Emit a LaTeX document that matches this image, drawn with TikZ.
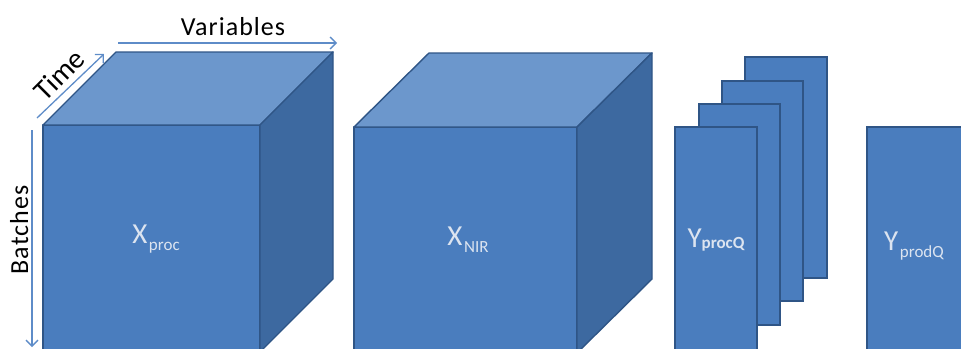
\documentclass[tikz,border=0pt]{standalone}
\usepackage{fontspec}
\setmainfont{Carlito}
\usetikzlibrary{arrows.meta}

\definecolor{frontblue}{HTML}{4A7DBE}
\definecolor{topblue}{HTML}{6C97CC}
\definecolor{sideblue}{HTML}{3D69A0}
\definecolor{edgeblue}{HTML}{2F5586}
\definecolor{axisblue}{HTML}{5E8CC8}
\definecolor{labelgray}{HTML}{DCE4F0}

\tikzset{
  front/.style={fill=frontblue, draw=edgeblue, line width=1.4pt, line join=round},
  topface/.style={fill=topblue, draw=edgeblue, line width=1.4pt, line join=round},
  sideface/.style={fill=sideblue, draw=edgeblue, line width=1.4pt, line join=round},
  sheet/.style={fill=frontblue, draw=edgeblue, line width=1.6pt},
  axis/.style={draw=axisblue, line width=1.3pt, -{Straight Barb[length=6pt,width=12pt,line width=1.3pt]}},
  axislabel/.style={font=\fontsize{26}{26}\selectfont\addfontfeatures{LetterSpace=4}, text=black, inner sep=0pt, anchor=base},
  inlabel/.style={text=labelgray, inner sep=0pt, anchor=base},
}
\newcommand{\bigsym}[1]{{\fontsize{29}{29}\selectfont #1}}
\newcommand{\lowsub}[2]{\raisebox{#1}{\fontsize{17}{17}\selectfont #2}}

\begin{document}
\begin{tikzpicture}[x=1pt, y=-1pt]
  \useasboundingbox (0,0) rectangle (961,348);
  \clip (0,0) rectangle (961,348);

  % first cube: process data
  \draw[front]   (43,125) rectangle (260,352);
  \draw[topface] (43,125) -- (116,52) -- (333,52) -- (260,125) -- cycle;
  \draw[sideface] (260,125) -- (333,52) -- (333,279) -- (260,352) -- cycle;

  % second cube: NIR spectra
  \draw[front]   (354,127) rectangle (577,353);
  \draw[topface] (354,127) -- (429,53) -- (652,53) -- (577,127) -- cycle;
  \draw[sideface] (577,127) -- (652,53) -- (652,279) -- (577,353) -- cycle;

  % stack of quality sheets
  \draw[sheet] (745,57)  rectangle (827,278);
  \draw[sheet] (722,81)  rectangle (803,301);
  \draw[sheet] (699,104) rectangle (780,325);
  \draw[sheet] (675,127) rectangle (757,353);

  % final product quality
  \draw[sheet] (867,127) rectangle (980,353);

  % axes of the first cube
  \coordinate (varS) at (118,43);
  \coordinate (varE) at (337,43);
  \coordinate (timeS) at (37,118);
  \coordinate (timeE) at (104,54);
  \coordinate (batS) at (32,130);
  \coordinate (batE) at (32,347);
  \draw[axis] (varS) -- (varE);
  \draw[axis] (timeS) -- (timeE);
  \draw[axis] (batS) -- (batE);

  \node[axislabel] (variables) at (233,35) {Variables};
  \node[axislabel, rotate=45, font=\fontsize{29}{29}\selectfont] (time) at (66,82) {Time};
  \node[axislabel, rotate=90] (batches) at (28,230) {Batches};

  % block labels
  \node[inlabel] (xproc) at (156,243) {\bigsym{X}\,\lowsub{-7pt}{proc}};
  \node[inlabel] (xnir) at (468,245) {\bigsym{X}\,\lowsub{-7pt}{NIR}};
  \node[inlabel] (yprocq) at (716,247) {\bigsym{Y}\lowsub{-1pt}{\bfseries procQ}};
  \node[inlabel] (yprodq) at (914,250) {\bigsym{Y}\,\lowsub{-7pt}{prodQ}};
\end{tikzpicture}
\end{document}
